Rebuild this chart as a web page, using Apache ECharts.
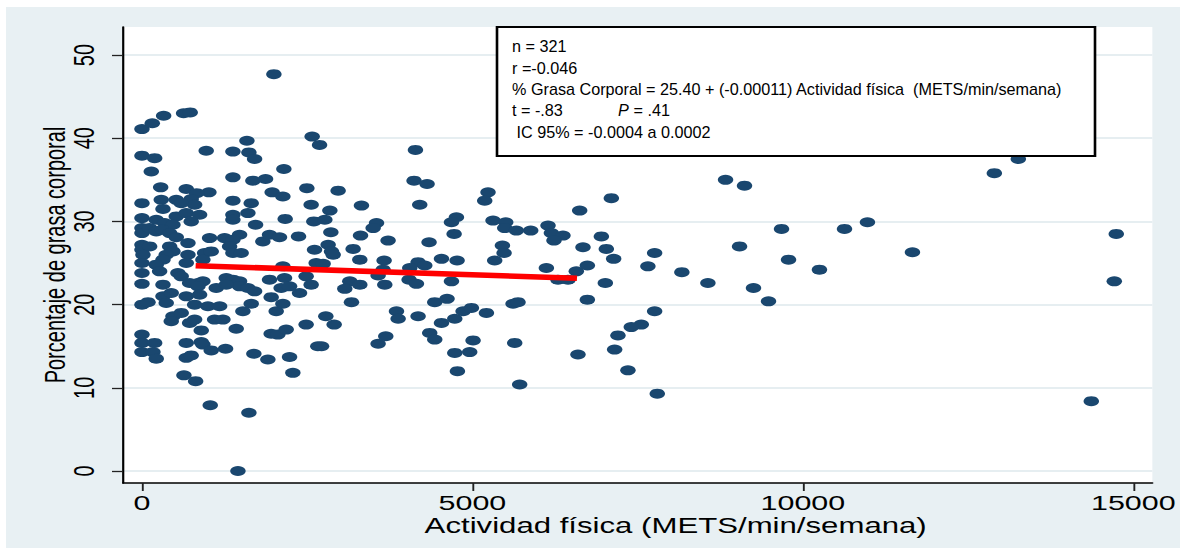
<!DOCTYPE html>
<html>
<head>
<meta charset="utf-8">
<script src="https://cdn.jsdelivr.net/npm/echarts@6/dist/echarts.min.js"></script>
<style>
  html, body { margin: 0; padding: 0; background: #ffffff; width: 1180px; height: 550px; overflow: hidden; }
  #bg { position: absolute; left: 6px; top: 7px; width: 1174px; height: 541px; background: #e8f0f3; }
  #chart { position: absolute; left: 0; top: 0; width: 814px; height: 550px; transform-origin: 0 0; }
</style>
</head>
<body>
<div id="bg"></div>
<div id="chart"></div>
<script>
// ---------- data ----------
const xTicks = [0, 5000, 10000, 15000];
const yTicks = [0, 10, 20, 30, 40, 50];
const xTitle = 'Actividad física (METS/min/semana)';
const yTitle = 'Porcentaje de grasa corporal';
// [actividad física, % grasa corporal]
const puntos = [
  [1996,47.7],
  [0,41.1],[156,41.8],[328,42.7],[630,43.0],[730,43.1],
  [0,37.9],[192,37.6],[141,36.0],[972,38.5],[1376,38.4],[1588,39.7],[1618,38.3],[1704,37.5],[2575,40.2],[2687,39.2],
  [2147,36.3],[1376,35.3],[1678,34.9],[1870,35.1],[283,34.1],[670,33.9],[1013,33.5],[827,33.4],[1970,33.5],[2132,33.0],[2495,34.0],
  [0,32.2],[292,32.6],[519,32.6],[745,32.7],[318,31.5],[797,32.0],[594,32.2],[1376,32.5],[1653,32.2],[2560,32.0],
  [0,30.4],[216,30.2],[343,29.8],[519,30.6],[670,31.0],[872,30.8],[745,30.0],[469,29.6],[1376,30.8],[1376,30.2],[1603,31.0],[2167,30.3],[2600,30.0],[1719,29.6],
  [0,29.2],[0,28.6],[116,29.2],[216,28.8],[307,29.0],[419,28.6],[519,28.1],[1023,28.0],[1250,28.0],[1477,28.4],[1376,27.8],[1829,27.6],[1930,28.4],[2081,28.1],[2369,28.2],
  [0,27.2],[0,26.6],[116,27.0],[419,27.0],[469,26.4],[696,27.4],[696,26.0],[948,26.2],[1048,26.4],[1326,27.0],[1376,26.2],[1501,26.2],[2611,26.6],[15,26.0],[367,26.0],
  [318,25.4],[216,24.8],[670,25.0],[922,25.4],[2132,24.6],[2636,25.0],[0,25.0],
  [0,23.8],[267,24.0],[544,23.8],[594,23.4],[847,22.6],[922,22.8],[1275,23.2],[1376,23.0],[1477,22.8],[1930,23.0],[2157,23.2],[2484,23.4],[2560,22.4],[0,22.5],[318,22.4],
  [721,22.6],[847,22.2],[1477,22.2],[1603,22.0],[1704,21.6],[2106,22.0],[2233,22.2],[2384,21.4],[1124,22.0],[1275,22.4],
  [0,20.0],[91,20.3],[318,21.0],[443,21.4],[367,20.2],[670,21.0],[797,20.0],[872,21.2],[998,19.8],[1175,19.8],[1527,19.2],[1653,20.1],[1955,20.9],[2031,19.2],[2132,20.1],
  [469,18.6],[594,19.0],[443,18.0],[721,17.8],[797,18.2],[1099,18.2],[1225,18.2],
  [0,16.4],[897,16.9],[1426,17.1],[1955,16.5],[2056,16.4],[2182,17.0],[2484,17.6],
  [0,15.4],[192,15.4],[0,14.3],[166,14.3],[216,13.5],[670,15.4],[897,15.5],[922,15.2],[1048,14.5],[1265,14.7],[670,13.6],[745,13.9],[1693,14.1],[1905,13.4],[2233,13.7],[2661,15.0],
  [635,11.5],[812,10.8],[2283,11.8],[1033,7.9],[1618,7.0],[1452,0],
  [4138,38.6],[4117,34.9],[4314,34.5],[2968,33.7],[4203,32.0],[3321,31.9],[2843,31.3],[2767,30.2],[5236,33.5],[5186,32.5],[3549,29.8],[3498,29.2],[4758,30.5],[4683,29.9],[5312,30.1],[5504,29.9],[5489,29.2],
  [2858,28.7],[3307,28.3],[3724,27.7],[4723,28.5],[2817,27.2],[2868,26.4],[2893,26.0],[3195,26.7],[4344,27.5],[5454,27.1],[5479,26.2],
  [3296,25.4],[3664,25.3],[4532,25.5],[4768,25.3],[5337,25.3],[4178,25.1],[4279,24.7],[4052,24.4],[2741,24.9],[3649,24.2],
  [3145,22.8],[3296,22.4],[3674,22.4],[4042,23.0],[4153,22.5],[4683,22.8],[3573,23.5],[3069,21.9],
  [3170,20.3],[4430,20.3],[4616,20.7],[5615,20.1],[5690,20.3],[2782,18.6],[2908,17.6],[3851,19.2],[3876,18.3],[4178,18.6],[4532,17.8],[4733,18.3],[4859,19.2],[4985,19.6],[5212,19.0],
  [2717,15.0],[3573,15.3],[3689,16.2],[4354,16.6],[4430,15.8],[5010,15.7],[4733,14.2],[4959,14.3],[4773,12.0],[5640,15.4],[5715,10.4],
  [7102,32.8],[6623,31.3],[5665,28.9],[5882,28.9],[6144,29.5],[6195,28.6],[6370,28.3],[6234,27.7],[6951,28.2],[6673,26.9],[7026,26.7],[7137,25.5],[7757,26.2],[7655,24.6],[8169,23.9],[8563,22.6],
  [6119,24.4],[6572,24.0],[6739,24.7],[6295,23.0],[6446,23.0],[7011,22.6],[6739,20.6],[7757,19.2],[7555,17.6],[7404,17.3],[7202,16.3],[7152,14.6],[6597,14.0],[7353,12.1],[7797,9.3],
  [8830,35.0],[9117,34.3],[9677,29.1],[9042,27.0],[9783,25.4],[9253,22.0],[9480,20.4],[10251,24.2],[10630,29.1],[10977,29.9],[11658,26.3],
  [12897,35.8],[13260,37.5],[14364,8.4],[14742,28.5],[14712,22.8]
];
// regression line as drawn
const ajuste = [[812,24.68],[6582,23.16]];
const anotacion = ['n = 321', 'r =-0.046', '% Grasa Corporal = 25.40 + (-0.00011) Actividad física  (METS/min/semana)'];
const anotacionT = ['t = -.83', 'P', ' = .41'];
const anotacionIC = ' IC 95% = -0.0004 a 0.0002';

// ---------- layout (page is stretched horizontally like the original) ----------
const W = 814, S = 1180 / W;
document.getElementById('chart').style.transform = 'scaleX(' + S + ')';
const X = px => px / S; // page px -> chart px
const FONT = 'Liberation Sans, Arial, sans-serif';

const chart = echarts.init(document.getElementById('chart'), null, { renderer: 'svg', width: W, height: 550 });

const textEl = (txt, px, py, italic) => ({
  type: 'text', x: X(px), y: py, scaleX: 1 / S, z: 100,
  style: { text: txt, fill: '#000', font: (italic ? 'italic ' : '') + '16.2px ' + FONT, verticalAlign: 'middle', align: 'left' }
});

const option = {
  animation: false,
  grid: { left: X(123), right: W - X(1153), top: 27, bottom: 67, show: true, backgroundColor: '#ffffff', borderWidth: 0 },
  xAxis: {
    type: 'value', min: -287, max: 15288,
    name: xTitle, nameLocation: 'middle', nameGap: 34, nameMoveOverlap: false,
    nameTextStyle: { fontSize: 21.5, fontFamily: FONT, color: '#000', lineHeight: 17, padding: [0, 0, 0, 2 * X(676 - 638)] },
    axisLine: { show: true, onZero: false, lineStyle: { color: '#000', width: 1.5 } },
    axisTick: { show: true, length: 8, customValues: xTicks, lineStyle: { color: '#222', width: 1.3 } },
    axisLabel: { customValues: xTicks, fontSize: 21, lineHeight: 16, fontFamily: FONT, color: '#000', margin: 12, formatter: v => String(v) },
    splitLine: { show: false }
  },
  yAxis: {
    type: 'value', min: -1.44, max: 53.37,
    name: yTitle, nameLocation: 'middle', nameGap: 37.5, nameMoveOverlap: false,
    nameTextStyle: { fontSize: 20, fontFamily: FONT, color: '#000', lineHeight: 20 },
    axisLine: { show: true, onZero: false, lineStyle: { color: '#000', width: 1.5 } },
    axisTick: { show: true, length: X(11), customValues: yTicks, lineStyle: { color: '#222', width: 1.3 } },
    axisLabel: { customValues: yTicks, rotate: 90, fontSize: 20, lineHeight: 20, fontFamily: FONT, color: '#000', margin: 17, formatter: v => String(v) },
    splitLine: { show: true, lineStyle: { color: '#e6eef1', width: 2 } }
  },
  series: [
    {
      type: 'scatter', data: puntos, z: 3,
      symbol: 'circle', symbolSize: [X(15.5), 10],
      itemStyle: { color: '#1a476f', opacity: 1 },
      silent: true
    },
    {
      type: 'line', data: ajuste, z: 4, symbol: 'none',
      lineStyle: { color: '#ff0000', width: 5.5, cap: 'butt' },
      silent: true
    }
  ],
  graphic: [
    { type: 'rect', z: 99, shape: { x: X(497), y: 27, width: X(1095 - 497), height: 129 },
      style: { fill: '#ffffff', stroke: '#000', lineWidth: 1.8 } },
    textEl(anotacion[0], 512, 46),
    textEl(anotacion[1], 512, 68),
    textEl(anotacion[2], 512, 89),
    textEl(anotacionT[0], 512, 110),
    textEl(anotacionT[1], 618, 110, true),
    textEl(anotacionT[2], 629, 110),
    textEl(anotacionIC, 512, 132)
  ]
};
chart.setOption(option);
</script>
</body>
</html>
